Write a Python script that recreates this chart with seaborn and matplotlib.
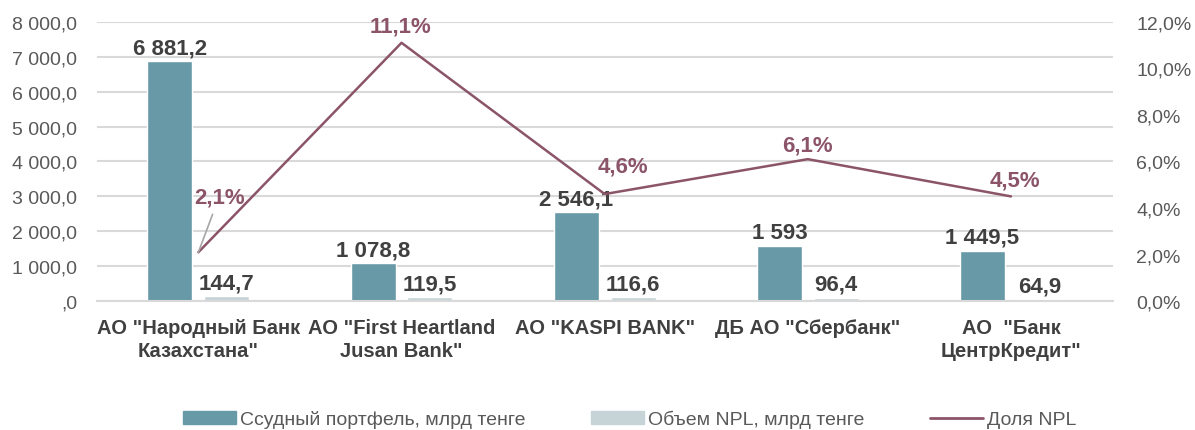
import numpy as np
import pandas as pd
import matplotlib
matplotlib.use("Agg")
import matplotlib.pyplot as plt
import seaborn as sns

# data
banks = ['АО "Народный Банк\nКазахстана"', 'АО "First Heartland\nJusan Bank"',
         'АО "KASPI BANK"', 'ДБ АО "Сбербанк"', 'АО  "Банк\nЦентрКредит"']
loans = [6881.2, 1078.8, 2546.1, 1593.0, 1449.5]
npl_volume = [144.7, 119.5, 116.6, 96.4, 64.9]
npl_share = [2.1, 11.1, 4.6, 6.1, 4.5]
loan_labels = ["6 881,2", "1 078,8", "2 546,1", "1 593", "1 449,5"]
npl_labels = ["144,7", "119,5", "116,6", "96,4", "64,9"]
share_labels = ["2,1%", "11,1%", "4,6%", "6,1%", "4,5%"]
left_ticks = [",0", "1 000,0", "2 000,0", "3 000,0", "4 000,0",
              "5 000,0", "6 000,0", "7 000,0", "8 000,0"]
right_ticks = ["0,0%", "2,0%", "4,0%", "6,0%", "8,0%", "10,0%", "12,0%"]

series = ["Ссудный портфель, млрд тенге", "Объем NPL, млрд тенге"]
df = pd.DataFrame({
    "bank": banks * 2,
    "series": [series[0]] * 5 + [series[1]] * 5,
    "value": loans + npl_volume,
})

sns.set_theme(style="white")
plt.rcParams["font.family"] = ["Liberation Sans", "DejaVu Sans"]

teal = "#6899A6"
light = "#C6D4D7"
wine = "#8B5469"
dark = "#404040"
grey = "#595959"

fig = plt.figure(figsize=(11.95, 4.31), dpi=100)
ax = fig.add_axes([0.081, 0.299, 0.850, 0.648])

sns.barplot(data=df, x="bank", y="value", hue="series", order=banks,
            hue_order=series, palette=[teal, light], width=0.56, gap=0.21,
            saturation=1, ax=ax, legend=False)

ax.set_ylim(0, 8000)
ax.set_xlim(-0.5, 4.5)
ax.set_yticks(np.arange(0, 8001, 1000))
ax.set_yticklabels(left_ticks, color=grey, fontsize=14)
ax.set_xticks(range(5))
ax.set_xticklabels(banks, color=dark, fontsize=14.5, fontweight="bold",
                   linespacing=1.25)
ax.tick_params(axis="y", length=0, pad=14)
ax.tick_params(axis="x", length=0, pad=12)
ax.set_xlabel("")
ax.set_ylabel("")
ax.grid(axis="y", color="#D9D9D9", linewidth=1.5)
ax.set_axisbelow(True)
for s in ["top", "right", "left"]:
    ax.spines[s].set_visible(False)
ax.spines["bottom"].set_color("#D9D9D9")
ax.spines["bottom"].set_linewidth(1.5)

for cont, labels in zip(ax.containers, [loan_labels, npl_labels]):
    ax.bar_label(cont, labels=labels, padding=2, fontsize=16,
                 fontweight="bold", color=dark)

ax2 = ax.twinx()
sns.lineplot(x=np.arange(5), y=npl_share, color=wine, linewidth=1.8, ax=ax2)
ax2.set_ylim(0, 12)
ax2.set_yticks(np.arange(0, 13, 2))
ax2.set_yticklabels(right_ticks, color=grey, fontsize=14)
ax2.tick_params(axis="y", length=0, pad=17)
for s in ax2.spines.values():
    s.set_visible(False)

# label offsets in points from each line point
offsets = [(15, 40), (-1, 12), (13, 20), (0, 10), (3, 12)]
for i, (dx, dy) in enumerate(offsets):
    arrow = None
    if i == 0:
        arrow = dict(arrowprops=dict(arrowstyle="-", color="#A6A6A6", lw=1.2,
                                     shrinkA=3, shrinkB=0))
    ax2.annotate(share_labels[i], xy=(i, npl_share[i]), xytext=(dx, dy),
                 textcoords="offset points", ha="center", va="center",
                 fontsize=16, fontweight="bold", color=wine,
                 **(arrow or {}))

handles = [plt.Rectangle((0, 0), 1, 1, color=teal),
           plt.Rectangle((0, 0), 1, 1, color=light),
           plt.Line2D([0], [0], color=wine, linewidth=2)]
fig.legend(handles, series + ["Доля NPL"], loc="center", ncol=3,
           bbox_to_anchor=(0.527, 0.025), frameon=False, fontsize=14,
           labelcolor=grey, handlelength=2.7, handleheight=0.7,
           handletextpad=0.2, columnspacing=3.4)

fig.savefig("out.png", dpi=100)
